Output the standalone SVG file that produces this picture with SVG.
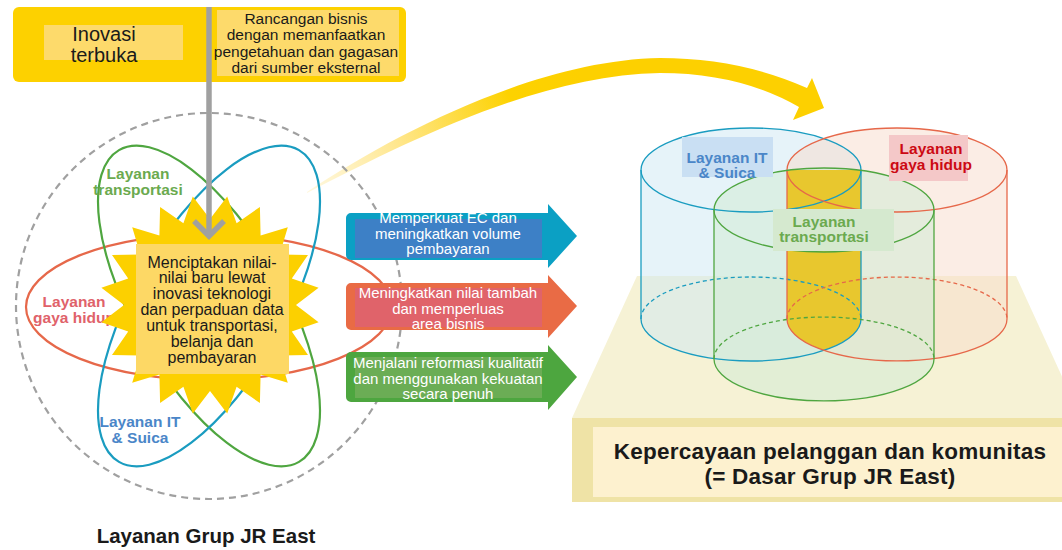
<svg xmlns="http://www.w3.org/2000/svg" width="1062" height="550" viewBox="0 0 1062 550">
<defs>
<style>
text{font-family:"Liberation Sans",Arial,sans-serif;}
.t{fill:#1a1a1a;text-anchor:middle;}
.w{fill:#ffffff;text-anchor:middle;font-size:15px;}
.b{font-weight:bold;text-anchor:middle;font-size:15.5px;}
.orb{fill:none;stroke-width:2.2;}
.cyl{stroke-width:1.3;fill:none;}
.dash{stroke-dasharray:4 3;}
</style>
<linearGradient id="ygrad" gradientUnits="userSpaceOnUse" x1="307" y1="190" x2="580" y2="70">
<stop offset="0" stop-color="#FFF3C8" stop-opacity="0.6"/>
<stop offset="0.35" stop-color="#FFE68A"/>
<stop offset="0.75" stop-color="#FDD200"/>
<stop offset="1" stop-color="#FDD000"/>
</linearGradient>
</defs>
<rect width="1062" height="550" fill="#ffffff"/>

<!-- base platform -->
<g id="base">
<polygon points="637,276 1016,276 1081,418 572,418" fill="#F6F2D5"/>
<rect x="572" y="418" width="490" height="84" fill="#EFE3A6"/>
<rect x="593" y="427" width="469" height="70" fill="#FDF1CF"/>
<text class="t" x="830" y="459" font-size="22.5" font-weight="bold" letter-spacing="0.25" fill="#111">Kepercayaan pelanggan dan komunitas</text>
<text class="t" x="830" y="484" font-size="22.5" font-weight="bold" letter-spacing="0.25" fill="#111">(= Dasar Grup JR East)</text>
</g>

<!-- cylinders -->
<g id="cylinders">
<path d="M641,170 A110,42 0 0 1 861,170 V319 A110,42 0 0 1 641,319 Z" fill="#CDE8F4" fill-opacity="0.5"/>
<path d="M787,170 A110,42 0 0 1 1007,170 V319 A110,42 0 0 1 787,319 Z" fill="#F8DCCB" fill-opacity="0.5"/>
<path d="M714,210 A110,42 0 0 1 934,210 V359 A110,42 0 0 1 714,359 Z" fill="#D2EBD6" fill-opacity="0.55"/>
<path d="M787,170 H861 V319 A110,42 0 0 1 824,350.5 A110,42 0 0 1 787,319 Z" fill="#E8C72E"/>
<g stroke="#1A9CC0" class="cyl">
<ellipse cx="751" cy="170" rx="110" ry="42" fill="none"/>
<line x1="641" y1="170" x2="641" y2="319"/>
<line x1="861" y1="170" x2="861" y2="319"/>
<path d="M861,319 A110,42 0 0 1 641,319"/>
<path class="dash" d="M641,319 A110,42 0 0 1 861,319"/>
</g>
<g stroke="#E6684A" class="cyl">
<ellipse cx="897" cy="170" rx="110" ry="42" fill="none"/>
<line x1="787" y1="170" x2="787" y2="319"/>
<line x1="1007" y1="170" x2="1007" y2="319"/>
<path d="M1007,319 A110,42 0 0 1 787,319"/>
<path class="dash" d="M787,319 A110,42 0 0 1 1007,319"/>
</g>
<g stroke="#4FA640" class="cyl">
<ellipse cx="824" cy="210" rx="110" ry="42" fill="none"/>
<line x1="714" y1="210" x2="714" y2="359"/>
<line x1="934" y1="210" x2="934" y2="359"/>
<path d="M934,359 A110,42 0 0 1 714,359"/>
<path class="dash" d="M714,359 A110,42 0 0 1 934,359"/>
</g>
<rect x="682" y="137" width="91" height="40" fill="#C9DFF3"/>
<text class="b" x="727" y="163" fill="#4A86C8">Layanan IT</text>
<text class="b" x="727" y="178" fill="#4A86C8">&amp; Suica</text>
<rect x="889" y="135" width="79" height="46" fill="#F4C8C8"/>
<text class="b" x="931" y="154" fill="#CC0A14">Layanan</text>
<text class="b" x="931" y="170" fill="#CC0A14">gaya hidup</text>
<rect x="773" y="209" width="121" height="42" fill="#D5E9CF"/>
<text class="b" x="824" y="227" fill="#6BAA4F">Layanan</text>
<text class="b" x="824" y="242" fill="#6BAA4F">transportasi</text>
</g>

<!-- connectors -->
<g id="connectors">
<path d="M307,192 C400,130 540,60 660,58 Q740,58 807,88 L812,78 L824,108 L793,120 L799,107 Q740,73 660,73 C540,75 410,140 307,193 Z" fill="url(#ygrad)"/>
</g>

<!-- left cluster -->
<g id="jr-services">
<circle cx="209" cy="306" r="193" fill="none" stroke="#A0A0A0" stroke-width="2.2" stroke-dasharray="7 5"/>
<ellipse cx="209" cy="307" rx="183" ry="73" class="orb" stroke="#E6684A"/>
<ellipse cx="209" cy="306" rx="75" ry="180" class="orb" stroke="#4FA640" transform="rotate(-30 209 306)"/>
<ellipse cx="209" cy="306" rx="75" ry="180" class="orb" stroke="#1A9CC0" transform="rotate(30 209 306)"/>
<text class="b" x="138" y="179" fill="#6BAA4F">Layanan</text>
<text class="b" x="138" y="195" fill="#6BAA4F">transportasi</text>
<text class="b" x="74" y="307" fill="#E0626A">Layanan</text>
<text class="b" x="74" y="323" fill="#E0626A">gaya hidup</text>
<text class="b" x="140" y="427" fill="#4A86C8">Layanan IT</text>
<text class="b" x="140" y="443" fill="#4A86C8">&amp; Suica</text>
<text class="t" x="206" y="543" font-size="20.5" font-weight="bold" fill="#111">Layanan Grup JR East</text>
</g>

<g id="center-star">
<polygon fill="#FCD000" points="210,219 227.2,196.4 236.6,223.2 259.9,207 260.6,235.4 287.8,227.2 279.6,254.4 308,255.1 291.8,278.4 318.6,287.8 296,305 318.6,322.2 291.8,331.6 308,354.9 279.6,355.6 287.8,382.8 260.6,374.6 259.9,403 236.6,386.8 227.2,413.6 210,391 192.8,413.6 183.4,386.8 160.1,403 159.4,374.6 132.2,382.8 140.4,355.6 112,354.9 128.2,331.6 101.4,322.2 124,305 101.4,287.8 128.2,278.4 112,255.1 140.4,254.4 132.2,227.2 159.4,235.4 160.1,207 183.4,223.2 192.8,196.4"/>
<rect x="136" y="244" width="153" height="130" fill="#FDD865"/>
<g font-size="16">
<text class="t" x="212" y="267.5">Menciptakan nilai-</text>
<text class="t" x="212" y="283.3">nilai baru lewat</text>
<text class="t" x="212" y="299.2">inovasi teknologi</text>
<text class="t" x="212" y="315">dan perpaduan data</text>
<text class="t" x="212" y="330.8">untuk transportasi,</text>
<text class="t" x="212" y="346.7">belanja dan</text>
<text class="t" x="212" y="362.5">pembayaran</text>
</g>
</g>

<!-- top box -->
<g id="open-innovation">
<rect x="13" y="7" width="393" height="75" rx="6" fill="#FDD100"/>
<rect x="44" y="25" width="139" height="35" fill="#FDDA6B"/>
<rect x="217" y="10" width="182" height="66" fill="#FDDA6B"/>
<text class="t" x="104" y="41" font-size="20">Inovasi</text>
<text class="t" x="104" y="62" font-size="20">terbuka</text>
<g font-size="15.5">
<text class="t" x="306" y="23.5">Rancangan bisnis</text>
<text class="t" x="306" y="40">dengan memanfaatkan</text>
<text class="t" x="306" y="56.5">pengetahuan dan gagasan</text>
<text class="t" x="306" y="73">dari sumber eksternal</text>
</g>
</g>

<g id="gray-arrow">
<line x1="209" y1="7" x2="209" y2="236" stroke="#A0A0A0" stroke-width="5.5"/>
<polyline points="194,221 209,236 224,221" fill="none" stroke="#A0A0A0" stroke-width="5.5"/>
</g>

<!-- three arrows -->
<g id="arrow-ec">
<path d="M351,213 H548 V204 L577,236 L548,268 V260 H351 A5,5 0 0 1 346,255 V218 A5,5 0 0 1 351,213 Z" fill="#0BA0C4"/>
<rect x="355" y="219" width="187" height="39" fill="#3D80C6"/>
<text class="w" x="448" y="223">Memperkuat EC dan</text>
<text class="w" x="448" y="239">meningkatkan volume</text>
<text class="w" x="448" y="254">pembayaran</text>
</g>
<g id="arrow-value">
<path d="M351,283 H548 V275 L577,306 L548,338 V330 H351 A5,5 0 0 1 346,325 V288 A5,5 0 0 1 351,283 Z" fill="#E96B45"/>
<rect x="355" y="288" width="187" height="39" fill="#E0636A"/>
<text class="w" x="448" y="298">Meningkatkan nilai tambah</text>
<text class="w" x="448" y="314">dan memperluas</text>
<text class="w" x="448" y="329">area bisnis</text>
</g>
<g id="arrow-reform">
<path d="M351,352 H548 V345 L577,377 L548,410 V402 H351 A5,5 0 0 1 346,397 V357 A5,5 0 0 1 351,352 Z" fill="#4DA63F"/>
<rect x="355" y="357" width="187" height="41" fill="#6BAD55"/>
<text class="w" x="448" y="368">Menjalani reformasi kualitatif</text>
<text class="w" x="448" y="384">dan menggunakan kekuatan</text>
<text class="w" x="448" y="399">secara penuh</text>
</g>
</svg>
